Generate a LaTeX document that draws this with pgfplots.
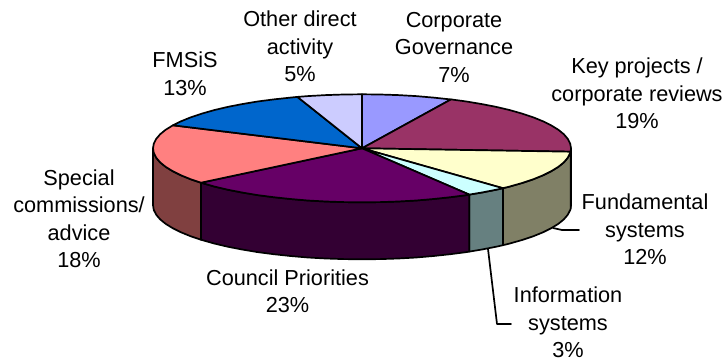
\documentclass[border=0pt]{standalone}
\usepackage{pgfplots}
\pgfplotsset{compat=1.18}
\usepackage{fontspec}
\setmainfont{Liberation Sans}
\definecolor{cOther}{HTML}{CCCCFF}
\definecolor{cCorp}{HTML}{9999FF}
\definecolor{cKey}{HTML}{993366}
\definecolor{cKeyS}{HTML}{4C1933}
\definecolor{cFund}{HTML}{FFFFCC}
\definecolor{cFundS}{HTML}{808066}
\definecolor{cInfo}{HTML}{CCFFFF}
\definecolor{cInfoS}{HTML}{668080}
\definecolor{cCouncil}{HTML}{660066}
\definecolor{cCouncilS}{HTML}{330033}
\definecolor{cSpecial}{HTML}{FF8080}
\definecolor{cSpecialS}{HTML}{804040}
\definecolor{cFMSiS}{HTML}{0066CC}
\tikzset{lab/.style={align=center, anchor=center, font=\fontsize{21.7}{27.5}\selectfont, inner sep=0pt}}
\begin{document}
\begin{tikzpicture}
\useasboundingbox (0,0) rectangle (725pt,361pt);
\begin{axis}[
  at={(0,0)}, anchor=south west,
  scale only axis, width=725pt, height=361pt,
  xmin=0, xmax=725, ymin=0, ymax=361, y dir=reverse,
  axis lines=none, clip=false,
  every axis plot/.append style={line width=1.7pt, line join=round, line cap=round, draw=black, mark=none},
]
% leader lines
\addplot[draw=black, mark=none] coordinates {(553,228) (562,230) (579,230)};
\addplot[draw=black, mark=none] coordinates {(488,249) (497,324) (511,324)};

% rim of the disc, front half only
\addplot[fill=cKeyS] coordinates {(571,148.3) (570.6,151.7) (570.6,208.7) (571,205.3)} -- cycle;
\addplot[fill=cFundS] coordinates {(570.6,151.7) (570.2,153.0) (567.8,157.7) (563.9,162.3) (558.4,166.8) (551.4,171.1) (543,175.3) (533.2,179.3) (522.1,183) (509.8,186.5) (502.9,188.2)
  (502.9,245.2) (509.8,243.5) (522.1,240) (533.2,236.3) (543,232.3) (551.4,228.1) (558.4,223.8) (563.9,219.3) (567.8,214.7) (570.2,210) (570.6,208.7)} -- cycle;
\addplot[fill=cInfoS] coordinates {(502.9,188.2) (496.3,189.7) (481.9,192.5) (469.3,194.6)
  (469.3,251.6) (481.9,249.5) (496.3,246.7) (502.9,245.2)} -- cycle;
\addplot[fill=cCouncilS] coordinates {(469.3,194.6) (466.5,195.1) (450.3,197.2) (433.5,199) (416.1,200.5) (398.3,201.5) (380.2,202.1) (362,202.3) (343.8,202.1) (325.7,201.5) (307.9,200.5) (290.5,199) (273.7,197.2) (257.5,195.1) (242.1,192.5) (227.7,189.7) (214.2,186.5) (201.9,183) (201,182.7)
  (201,239.7) (201.9,240) (214.2,243.5) (227.7,246.7) (242.1,249.5) (257.5,252.1) (273.7,254.2) (290.5,256) (307.9,257.5) (325.7,258.5) (343.8,259.1) (362,259.3) (380.2,259.1) (398.3,258.5) (416.1,257.5) (433.5,256) (450.3,254.2) (466.5,252.1) (469.3,251.6)} -- cycle;
\addplot[fill=cSpecialS] coordinates {(201,182.7) (190.8,179.3) (181,175.3) (172.6,171.1) (165.6,166.8) (160.1,162.3) (156.2,157.7) (153.8,153) (153,148.3)
  (153,205.3) (153.8,210) (156.2,214.7) (160.1,219.3) (165.6,223.8) (172.6,228.1) (181,232.3) (190.8,236.3) (201,239.7)} -- cycle;

% top face, clockwise from twelve o'clock
\addplot[fill=cCorp] coordinates {(362,148.3) (362,94.3) (380.2,94.5) (398.3,95.1) (416.1,96.1) (433.5,97.6) (450.3,99.4) (451,99.4)} -- cycle;
\addplot[fill=cKey] coordinates {(362,148.3) (451,99.4) (466.5,101.5) (481.9,104.1) (496.3,106.9) (509.8,110.1) (522.1,113.6) (533.2,117.3) (543,121.3) (551.4,125.5) (558.4,129.8) (563.9,134.3) (567.8,138.9) (570.2,143.6) (571,148.3) (570.6,151.7)} -- cycle;
\addplot[fill=cFund] coordinates {(362,148.3) (570.6,151.7) (570.2,153) (567.8,157.7) (563.9,162.3) (558.4,166.8) (551.4,171.1) (543,175.3) (533.2,179.3) (522.1,183) (509.8,186.5) (502.9,188.2)} -- cycle;
\addplot[fill=cInfo] coordinates {(362,148.3) (502.9,188.2) (496.3,189.7) (481.9,192.5) (469.3,194.6)} -- cycle;
\addplot[fill=cCouncil] coordinates {(362,148.3) (469.3,194.6) (466.5,195.1) (450.3,197.2) (433.5,199) (416.1,200.5) (398.3,201.5) (380.2,202.1) (362,202.3) (343.8,202.1) (325.7,201.5) (307.9,200.5) (290.5,199) (273.7,197.2) (257.5,195.1) (242.1,192.5) (227.7,189.7) (214.2,186.5) (201.9,183) (201,182.7)} -- cycle;
\addplot[fill=cSpecial] coordinates {(362,148.3) (201,182.7) (190.8,179.3) (181,175.3) (172.6,171.1) (165.6,166.8) (160.1,162.3) (156.2,157.7) (153.8,153) (153,148.3) (153.8,143.6) (156.2,138.9) (160.1,134.3) (165.6,129.8) (172.6,125.5) (172.9,125.3)} -- cycle;
\addplot[fill=cFMSiS] coordinates {(362,148.3) (172.9,125.3) (181,121.3) (190.8,117.3) (201.9,113.6) (214.2,110.1) (227.7,106.9) (242.1,104.1) (257.5,101.5) (273.7,99.4) (290.5,97.6) (297.4,96.9)} -- cycle;
\addplot[fill=cOther] coordinates {(362,148.3) (297.4,96.9) (307.9,96.1) (325.7,95.1) (343.8,94.5) (362,94.3)} -- cycle;

% slice labels
\node[lab] at (axis cs:454,47) {Corporate\\Governance\\7\%};
\node[lab] at (axis cs:300,46.5) {Other direct\\activity\\5\%};
\node[lab] at (axis cs:185,73.5) {FMSiS\\13\%};
\node[lab] at (axis cs:637,93.5) {Key projects /\\corporate reviews\\19\%};
\node[lab] at (axis cs:645,229.5) {Fundamental\\systems\\12\%};
\node[lab] at (axis cs:568,322.5) {Information\\systems\\3\%};
\node[lab] at (axis cs:287.5,291) {Council Priorities\\23\%};
\node[lab] at (axis cs:79,218.5) {Special\\commissions/\\advice\\18\%};
\end{axis}
\end{tikzpicture}
\end{document}
